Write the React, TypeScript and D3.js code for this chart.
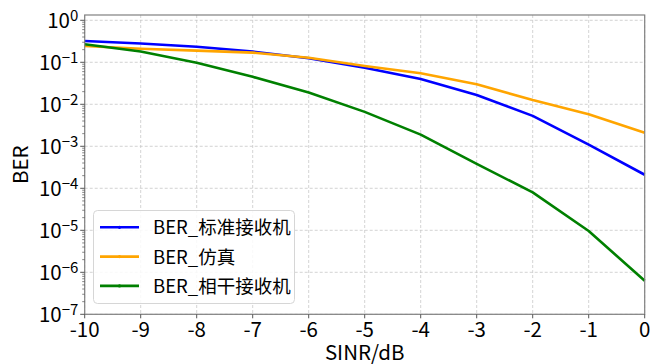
import React from "react";
import * as d3 from "d3";

const sinr = [-10, -9, -8, -7, -6, -5, -4, -3, -2, -1, 0];
const berStandard = [0.32, 0.28, 0.235, 0.18, 0.125, 0.074, 0.040, 0.0167, 0.0053, 0.0011, 0.00021];
const berSimulated = [0.245, 0.21, 0.19, 0.17, 0.128, 0.082, 0.055, 0.030, 0.0126, 0.0058, 0.0021];
const berCoherent = [0.27, 0.18, 0.098, 0.045, 0.019, 0.0066, 0.0019, 0.00038, 0.00008, 0.0000096, 0.00000063];

const seriesNames = ["BER_标准接收机", "BER_仿真", "BER_相干接收机"];
const seriesColors = ["#0000ff", "#ffa500", "#008000"];
const xTicks = [-10, -9, -8, -7, -6, -5, -4, -3, -2, -1, 0];
const yExponents = [0, -1, -2, -3, -4, -5, -6, -7];

const W = 651;
const H = 364;
const left = 84.7;
const right = 644.7;
const top = 15;
const bottom = 314.3;
const FONT = "'Noto Sans CJK SC', 'Noto Sans', sans-serif";

export default function App() {
  const x = d3.scaleLinear().domain([-10, 0]).range([left, right]);
  const y = d3.scaleLog().domain([1e-7, Math.pow(10, 0.126)]).range([bottom, top]);
  const series = [berStandard, berSimulated, berCoherent];
  const line = d3
    .line<number>()
    .x((_, i) => x(sinr[i]))
    .y((d) => y(d));

  const minorTicks: number[] = [];
  for (let e = -7; e <= 0; e++) {
    for (let m = 2; m <= 9; m++) {
      const v = m * Math.pow(10, e);
      if (v <= y.domain()[1]) minorTicks.push(v);
    }
  }

  return (
    <svg
      width={W}
      height={H}
      style={{ position: "absolute", left: 0, top: 0, background: "#fff" }}
      fontFamily={FONT}
    >
      {/* grid */}
      {xTicks.map((t) => (
        <line
          key={"gx" + t}
          x1={x(t)}
          x2={x(t)}
          y1={top}
          y2={bottom}
          stroke="#c8c8c8"
          strokeWidth={0.8}
          strokeDasharray="3,2"
        />
      ))}
      {yExponents.map((e) => (
        <line
          key={"gy" + e}
          x1={left}
          x2={right}
          y1={y(Math.pow(10, e))}
          y2={y(Math.pow(10, e))}
          stroke="#c8c8c8"
          strokeWidth={0.8}
          strokeDasharray="3,2"
        />
      ))}

      {/* series */}
      {series.map((s, i) => (
        <path
          key={"s" + i}
          d={line(s) || ""}
          fill="none"
          stroke={seriesColors[i]}
          strokeWidth={2.6}
          strokeLinejoin="round"
        />
      ))}

      {/* frame */}
      <rect
        x={left}
        y={top}
        width={right - left}
        height={bottom - top}
        fill="none"
        stroke="#808080"
        strokeWidth={1.2}
      />

      {/* x axis ticks */}
      {xTicks.map((t) => (
        <g key={"xt" + t}>
          <line x1={x(t)} x2={x(t)} y1={bottom} y2={bottom + 4} stroke="#555" strokeWidth={1} />
          <text x={x(t)} y={336.5} textAnchor="middle" fontSize={20.5} fill="#000">
            {String(t)}
          </text>
        </g>
      ))}

      {/* y axis ticks */}
      {minorTicks.map((v, i) => (
        <line
          key={"ym" + i}
          x1={left - 2.5}
          x2={left}
          y1={y(v)}
          y2={y(v)}
          stroke="#555"
          strokeWidth={0.7}
        />
      ))}
      {yExponents.map((e) => {
        const yy = y(Math.pow(10, e));
        return (
          <g key={"yt" + e}>
            <line x1={left - 4.5} x2={left} y1={yy} y2={yy} stroke="#555" strokeWidth={1} />
            <text x={78.3} y={yy + 8} textAnchor="end" fontSize={20.5} fill="#000">
              10
              <tspan fontSize={15} dy={-7.6}>
                {e < 0 ? "\u2212" + Math.abs(e) : String(e)}
              </tspan>
            </text>
          </g>
        );
      })}

      {/* axis labels */}
      <text x={(left + right) / 2} y={360} textAnchor="middle" fontSize={20.5} fill="#000">
        SINR/dB
      </text>
      <text
        transform={`translate(27.5, ${(top + bottom) / 2}) rotate(-90)`}
        textAnchor="middle"
        fontSize={20.5}
        fill="#000"
      >
        BER
      </text>

      {/* legend */}
      <rect
        x={93.5}
        y={210.5}
        width={201}
        height={93}
        rx={4}
        fill="#fff"
        fillOpacity={0.85}
        stroke="#d6d6d6"
        strokeWidth={1}
      />
      {seriesNames.map((name, i) => {
        const ly = 227.3 + i * 29.3;
        return (
          <g key={"lg" + i}>
            <line x1={100} x2={139} y1={ly} y2={ly} stroke={seriesColors[i]} strokeWidth={2.6} />
            <circle cx={119.5} cy={ly} r={1.6} fill={seriesColors[i]} />
            <text x={153} y={ly + 7} fontSize={18.5} fill="#000">
              {name}
            </text>
          </g>
        );
      })}
    </svg>
  );
}
